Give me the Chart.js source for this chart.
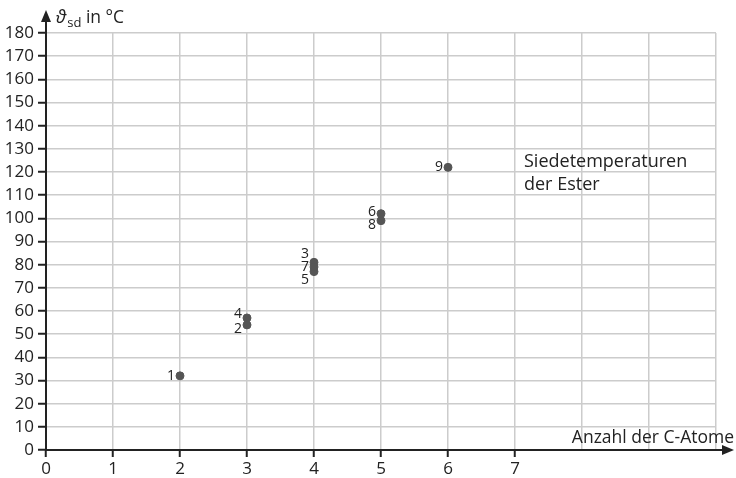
<!DOCTYPE html>
<html lang="de">
<head>
    <meta charset="UTF-8">
    <title>Siedetemperaturen der Ester</title>
    <script src="https://cdn.jsdelivr.net/npm/chart.js"></script>
    <style>
        html, body { margin: 0; padding: 0; background: #fff; }
        #wrap { width: 736px; height: 478px; }
    </style>
</head>
<body>
    <div id="wrap"><canvas id="chart" width="736" height="478"></canvas></div>

    <script>
        // Ester Nr. 1..9
        const esterNr = ['1', '2', '3', '4', '5', '6', '7', '8', '9'];
        const cAtome = [2, 3, 4, 3, 4, 5, 4, 5, 6];
        const siedetemp = [32, 54, 81, 57, 77, 102, 79, 99, 122];
        const xTickLabels = ['0', '1', '2', '3', '4', '5', '6', '7'];

        // label nudges so stacked points stay readable
        const labelDy = [0, 4, -8, -4, 8, -2, 0, 4, 0];

        const FONT = '"Open Sans", "Noto Sans", sans-serif';
        const ink = '#222';

        const labelPlugin = {
            id: 'pointLabels',
            afterDatasetsDraw(chart) {
                const ctx = chart.ctx;
                const meta = chart.getDatasetMeta(0);
                ctx.save();
                ctx.font = '14px ' + FONT;
                ctx.fillStyle = ink;
                ctx.textAlign = 'right';
                ctx.textBaseline = 'middle';
                meta.data.forEach((pt, i) => {
                    ctx.fillText(esterNr[i], pt.x - 5, pt.y + labelDy[i]);
                });
                ctx.restore();
            }
        };

        const axesPlugin = {
            id: 'arrowAxes',
            afterDraw(chart) {
                const ctx = chart.ctx;
                const x0 = chart.scales.x.getPixelForValue(0);
                const y0 = chart.scales.y.getPixelForValue(0);
                ctx.save();
                ctx.strokeStyle = ink;
                ctx.fillStyle = ink;
                ctx.lineWidth = 2;
                // x axis
                ctx.beginPath();
                ctx.moveTo(x0, y0);
                ctx.lineTo(725, y0);
                ctx.stroke();
                ctx.beginPath();
                ctx.moveTo(734, y0);
                ctx.lineTo(722, y0 - 5);
                ctx.lineTo(722, y0 + 5);
                ctx.closePath();
                ctx.fill();
                // y axis
                ctx.beginPath();
                ctx.moveTo(x0, y0);
                ctx.lineTo(x0, 20);
                ctx.stroke();
                ctx.beginPath();
                ctx.moveTo(x0, 10);
                ctx.lineTo(x0 - 5, 22);
                ctx.lineTo(x0 + 5, 22);
                ctx.closePath();
                ctx.fill();

                // axis titles
                ctx.textBaseline = 'alphabetic';
                ctx.textAlign = 'left';
                ctx.font = 'italic 18px ' + FONT;
                ctx.fillText('ϑ', 56, 23);
                let w = ctx.measureText('ϑ').width;
                ctx.font = '13px ' + FONT;
                ctx.fillText('sd', 56 + w + 1, 27);
                let w2 = ctx.measureText('sd').width;
                ctx.font = '17.5px ' + FONT;
                ctx.fillText(' in °C', 56 + w + 1 + w2, 23);

                ctx.textAlign = 'right';
                ctx.fillText('Anzahl der C-Atome', 734, 443);

                ctx.textAlign = 'left';
                ctx.font = '18px ' + FONT;
                ctx.fillText('Siedetemperaturen', 524, 167);
                ctx.fillText('der Ester', 524, 190);
                ctx.restore();
            }
        };

        new Chart(document.getElementById('chart'), {
            type: 'scatter',
            data: {
                datasets: [{
                    data: cAtome.map((x, i) => ({ x: x, y: siedetemp[i] })),
                    backgroundColor: '#555',
                    borderColor: '#555',
                    pointRadius: 4,
                    pointHoverRadius: 4
                }]
            },
            options: {
                responsive: false,
                animation: false,
                layout: { padding: { top: 33, right: 20, left: 0, bottom: 0 } },
                plugins: {
                    legend: { display: false },
                    tooltip: { enabled: false }
                },
                scales: {
                    x: {
                        type: 'linear',
                        min: 0,
                        max: 10,
                        afterFit(s) { s.height = 28; },
                        border: { display: false },
                        grid: {
                            color: ctx => ctx.tick && ctx.tick.value === 0 ? 'rgba(0,0,0,0)' : '#cccccc',
                            lineWidth: 1.5,
                            tickLength: 7,
                            tickColor: ctx => ctx.tick && ctx.tick.value <= 7 ? ink : 'rgba(0,0,0,0)',
                            tickWidth: 2
                        },
                        ticks: {
                            stepSize: 1,
                            padding: 2,
                            autoSkip: false,
                            maxRotation: 0,
                            color: ink,
                            font: { family: FONT, size: 17 },
                            callback: v => xTickLabels[v] !== undefined ? xTickLabels[v] : ''
                        }
                    },
                    y: {
                        min: 0,
                        max: 180,
                        afterFit(s) { s.width = 46; },
                        border: { display: false },
                        grid: {
                            color: ctx => ctx.tick && ctx.tick.value === 0 ? 'rgba(0,0,0,0)' : '#cccccc',
                            lineWidth: 1.5,
                            tickLength: 8,
                            tickColor: ink,
                            tickWidth: 2
                        },
                        ticks: {
                            stepSize: 10,
                            padding: 4,
                            autoSkip: false,
                            color: ink,
                            font: { family: FONT, size: 17 }
                        }
                    }
                }
            },
            plugins: [labelPlugin, axesPlugin]
        });
    </script>
</body>
</html>
